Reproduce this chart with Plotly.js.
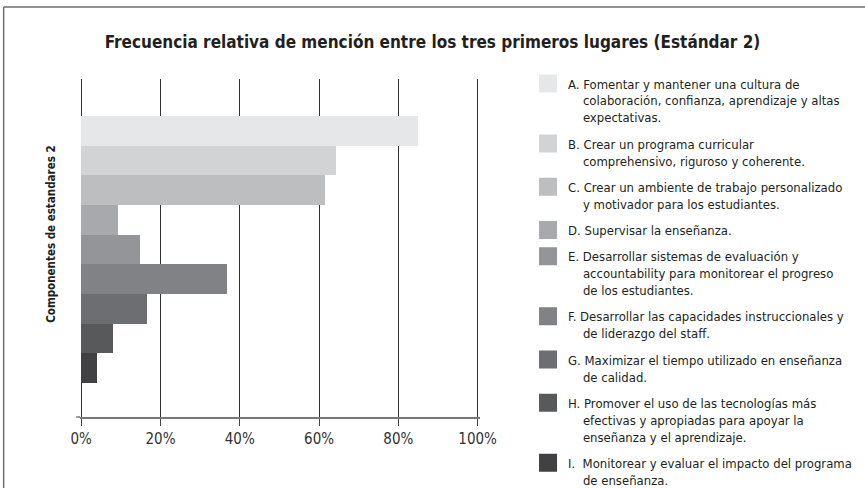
<!DOCTYPE html>
<html>
<head>
<meta charset="utf-8">
<script src="https://cdn.plot.ly/plotly-3.0.1.min.js"></script>
<style>
  html, body { margin: 0; padding: 0; background: #ffffff; }
  #chart { width: 865px; height: 488px; }
</style>
</head>
<body>
<div id="chart"></div>
<script>
// ---- Data ----
const categories = ['A', 'B', 'C', 'D', 'E', 'F', 'G', 'H', 'I'];
const values = [84.9, 64.4, 61.6, 9.4, 14.9, 36.9, 16.7, 8.1, 4.1];
const barColors = ['#e6e7e8', '#d1d3d4', '#bcbec0', '#a7a9ac', '#939598', '#808285', '#6d6e71', '#58595b', '#414042'];
const legendLines = [
  ['A. Fomentar y mantener una cultura de', 'colaboración, confianza, aprendizaje y altas', 'expectativas.'],
  ['B. Crear un programa curricular', 'comprehensivo, riguroso y coherente.'],
  ['C. Crear un ambiente de trabajo personalizado', 'y motivador para los estudiantes.'],
  ['D. Supervisar la enseñanza.'],
  ['E. Desarrollar sistemas de evaluación y', 'accountability para monitorear el progreso', 'de los estudiantes.'],
  ['F. Desarrollar las capacidades instruccionales y', 'de liderazgo del staff.'],
  ['G. Maximizar el tiempo utilizado en enseñanza', 'de calidad.'],
  ['H. Promover el uso de las tecnologías más', 'efectivas y apropiadas para apoyar la', 'enseñanza y el aprendizaje.'],
  ['I.\u00a0\u00a0Monitorear y evaluar el impacto del programa', 'de enseñanza.']
];
const xTickVals = [0, 20, 40, 60, 80, 100];
const xTickText = ['0%', '20%', '40%', '60%', '80%', '100%'];
const chartTitle = 'Frecuencia relativa de mención entre los tres primeros lugares (Estándar 2)';
const yTitle = 'Componentes de estandares 2';

// ---- Layout geometry ----
const W = 865, H = 488;
const xRange = [-0.3, 100.6];
const M = { l: 80.3, t: 79, b: 71.3, autoexpand: false };
const plotW = 399.7;
M.r = W - M.l - plotW;
const plotH = H - M.t - M.b;
const px2paperX = p => (p - M.l) / plotW;
const px2paperY = p => (H - M.b - p) / plotH;

const FONT = '"Liberation Sans Narrow", "Arial Narrow", "DejaVu Sans Condensed", sans-serif';
const INDENT = '\u00a0\u00a0\u00a0\u00a0';

const traces = [{
  type: 'bar',
  orientation: 'h',
  y: categories,
  x: values,
  marker: { color: barColors, line: { width: 0 } },
  width: 1,
  showlegend: false,
  hoverinfo: 'skip'
}];

categories.forEach((c, i) => {
  const lines = legendLines[i];
  const text = lines.map((l, k) => (k === 0 ? l : INDENT + l)).join('<br>');
  traces.push({
    type: 'scatter',
    mode: 'markers',
    x: [null],
    y: [null],
    name: text,
    legendgroup: 'g' + i,
    marker: { symbol: 'square', size: 16, color: barColors[i], line: { width: 2, color: barColors[i] } },
    showlegend: true,
    hoverinfo: 'skip'
  });
});

const layout = {
  width: W,
  height: H,
  margin: M,
  paper_bgcolor: '#ffffff',
  plot_bgcolor: '#ffffff',
  font: { family: FONT, color: '#231f20', size: 13 },
  title: {
    text: '<b>' + chartTitle + '</b>',
    font: { family: FONT, size: 17, color: '#231f20' },
    xref: 'container', x: 0.5, xanchor: 'center',
    yref: 'container', y: 1 - 42 / H, yanchor: 'middle'
  },
  barmode: 'overlay',
  bargap: 0,
  xaxis: {
    range: xRange,
    tickvals: xTickVals,
    ticktext: xTickText,
    showgrid: true,
    gridcolor: '#333333',
    gridwidth: 1,
    zeroline: false,
    showline: true,
    linecolor: '#777777',
    linewidth: 1.5,
    ticks: 'outside',
    ticklen: 7,
    tickcolor: '#444444',
    tickwidth: 1,
    tickfont: { family: FONT, size: 15, color: '#333333' },
    fixedrange: true
  },
  yaxis: {
    type: 'category',
    categoryorder: 'array',
    categoryarray: categories,
    range: [9.645, -1.746],
    showticklabels: false,
    showgrid: false,
    zeroline: false,
    showline: false,
    ticks: '',
    fixedrange: true
  },
  legend: {
    x: px2paperX(528),
    xanchor: 'left',
    y: px2paperY(68.5),
    yanchor: 'top',
    valign: 'top',
    traceorder: 'grouped',
    tracegroupgap: 6.4,
    maxheight: 430,
    font: { family: FONT, size: 13, color: '#231f20' },
    bgcolor: 'rgba(0,0,0,0)',
    borderwidth: 0
  },
  annotations: [{
    text: '<b>' + yTitle + '</b>',
    xref: 'paper', yref: 'paper',
    x: px2paperX(51), y: px2paperY(234),
    xanchor: 'center', yanchor: 'middle',
    textangle: -90,
    showarrow: false,
    font: { family: FONT, size: 11.5, color: '#231f20' }
  }],
  shapes: [
    { type: 'line', xref: 'paper', yref: 'paper', x0: px2paperX(4), x1: px2paperX(W + 5), y0: px2paperY(7), y1: px2paperY(7), line: { color: '#6d6e71', width: 1.5 }, layer: 'above' },
    { type: 'line', xref: 'paper', yref: 'paper', x0: px2paperX(4), x1: px2paperX(4), y0: px2paperY(7), y1: px2paperY(H + 5), line: { color: '#6d6e71', width: 1.5 }, layer: 'above' },
    { type: 'line', xref: 'paper', yref: 'paper', x0: px2paperX(76.5), x1: 0, y0: 0, y1: 0, line: { color: '#777777', width: 1.5 }, layer: 'above' }
  ]
};

Plotly.newPlot('chart', traces, layout, { staticPlot: true, displayModeBar: false });
</script>
</body>
</html>
